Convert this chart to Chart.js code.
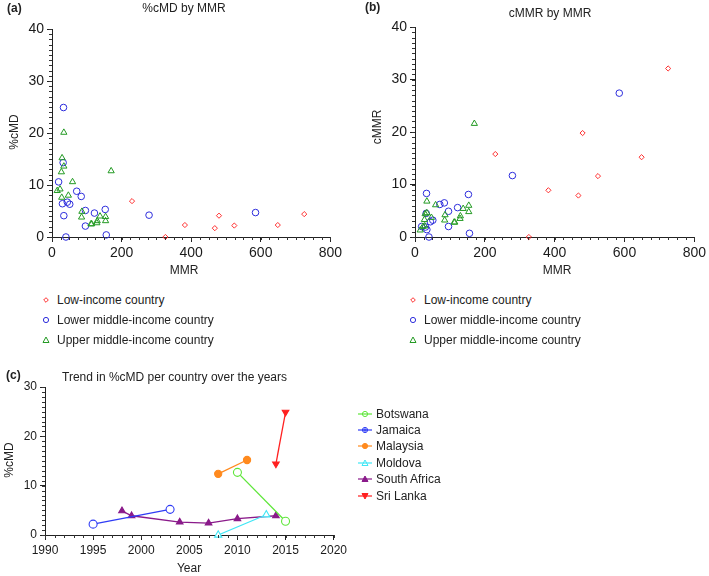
<!DOCTYPE html>
<html lang="en">
<head>
<meta charset="UTF-8">
<title>%cMD and cMMR by MMR</title>
<script src="https://cdn.jsdelivr.net/npm/chart.js@4.4.0/dist/chart.umd.min.js"></script>
<style>
    body { margin: 0; background: #fff; font-family: "Liberation Sans", Arial, sans-serif; color: #222; }
    .page { position: relative; width: 709px; height: 576px; overflow: hidden; }
    canvas { position: absolute; }
    .txt { position: absolute; font-size: 12px; white-space: nowrap; line-height: 14px; }
    .tag { font-weight: bold; }
    .ctr { transform: translateX(-50%); }
    .rot { transform: translate(-50%, -50%) rotate(-90deg); }
    .leg { position: absolute; font-size: 12px; line-height: 14px; white-space: nowrap; display: flex; align-items: center; }
    .leg svg { margin-right: 4px; }
</style>
</head>
<body>
<div class="page">
    <canvas id="chartA" width="345" height="265" style="left:0;top:0"></canvas>
    <canvas id="chartB" width="349" height="265" style="left:360px;top:0"></canvas>
    <canvas id="chartC" width="350" height="190" style="left:0;top:375px"></canvas>

    <!-- panel text -->
    <div class="txt tag" style="left:7px;top:1px">(a)</div>
    <div class="txt ctr" style="left:184px;top:1px">%cMD by MMR</div>
    <div class="txt rot" style="left:14px;top:132px">%cMD</div>
    <div class="txt ctr" style="left:184px;top:263px">MMR</div>

    <div class="txt tag" style="left:365px;top:0px">(b)</div>
    <div class="txt ctr" style="left:550px;top:6px">cMMR by MMR</div>
    <div class="txt rot" style="left:377px;top:127px">cMMR</div>
    <div class="txt ctr" style="left:557px;top:263px">MMR</div>

    <div class="txt tag" style="left:6px;top:368px">(c)</div>
    <div class="txt" style="left:62px;top:370px">Trend in %cMD per country over the years</div>
    <div class="txt rot" style="left:9px;top:460px">%cMD</div>
    <div class="txt ctr" style="left:189px;top:561px">Year</div>

    <div id="legA"></div>
    <div id="legB"></div>
    <div id="legC"></div>
</div>

<script>
    // ---- data, panels (a) and (b) ----
    const lowMMR = [230, 326, 382, 468, 480, 524, 649, 725];
    const lowPctCMD = [6.9, 0, 2.3, 1.7, 4.1, 2.2, 2.3, 4.4];
    const lowCMMR = [15.8, 0, 8.9, 7.9, 19.8, 11.6, 15.2, 32.1];

    const lowerMidMMR = [33, 19, 32, 71, 84, 30, 44, 51, 34, 40, 96, 96, 122, 153, 156, 279, 585];
    const lowerMidPctCMD = [24.9, 10.6, 14.3, 8.8, 7.8, 6.4, 6.7, 6.3, 4.1, 0, 5.1, 2.1, 4.6, 5.3, 0.4, 4.2, 4.7];
    const lowerMidCMMR = [8.3, 2.0, 4.5, 6.2, 6.5, 1.9, 2.9, 3.2, 1.4, 0, 4.9, 2.0, 5.6, 8.1, 0.7, 11.7, 27.4];

    const upperMidMMR = [34, 29, 34, 27, 15, 23, 28, 47, 59, 170, 86, 85, 112, 114, 129, 130, 138, 154, 154];
    const upperMidPctCMD = [20.1, 15.2, 13.6, 12.5, 8.9, 9.2, 7.6, 8.0, 10.6, 12.7, 4.9, 3.8, 2.5, 2.5, 2.7, 3.1, 4.0, 3.9, 3.1];
    const upperMidCMMR = [6.8, 4.4, 4.6, 3.3, 1.3, 2.0, 2.1, 3.7, 6.1, 21.6, 4.2, 3.2, 2.8, 2.8, 3.5, 4.0, 5.4, 6.0, 4.8];

    const incomeGroups = ['Low-income country', 'Lower middle-income country', 'Upper middle-income country'];

    // ---- data, panel (c) ----
    const countries = ['Botswana', 'Jamaica', 'Malaysia', 'Moldova', 'South Africa', 'Sri Lanka'];
    const botswanaYears = [2010, 2015];
    const botswanaPct = [12.7, 2.8];
    const jamaicaYears = [1995, 2003];
    const jamaicaPct = [2.2, 5.2];
    const malaysiaYears = [2008, 2011];
    const malaysiaPct = [12.4, 15.2];
    const moldovaYears = [2008, 2013];
    const moldovaPct = [0, 4.1];
    const southAfricaYears = [1998, 1999, 2004, 2007, 2010, 2014];
    const southAfricaPct = [4.9, 3.9, 2.6, 2.4, 3.3, 3.9];
    const sriLankaYears = [2014, 2015];
    const sriLankaPct = [14.4, 24.9];

    const FONT = 'Liberation Sans, Arial, sans-serif';
    const RED = '#ff3030', BLUE = '#2d2ddc', GREEN = '#239a23';

    const pts = (xs, ys) => xs.map((x, i) => ({ x: x, y: ys[i] }));

    // short minor ticks outside the axes
    const minorTicks = {
        id: 'minorTicks',
        afterDraw(chart, args, opts) {
            const ctx = chart.ctx;
            ctx.save();
            ctx.strokeStyle = '#333';
            ctx.lineWidth = 1;
            for (const [id, step] of Object.entries(opts.steps || {})) {
                const s = chart.scales[id];
                for (let v = s.min; v <= s.max + 1e-9; v += step) {
                    const p = Math.round(s.getPixelForValue(v)) + 0.5;
                    ctx.beginPath();
                    if (s.isHorizontal()) {
                        const y0 = Math.round(chart.chartArea.bottom);
                        ctx.moveTo(p, y0); ctx.lineTo(p, y0 + 3);
                    } else {
                        const x0 = Math.round(chart.chartArea.left);
                        ctx.moveTo(x0 - 3, p); ctx.lineTo(x0, p);
                    }
                    ctx.stroke();
                }
            }
            ctx.restore();
        }
    };

    function axis(min, max, step, fontSize, fitSize, horizontal) {
        return {
            type: 'linear',
            min: min,
            max: max,
            border: { display: true, color: '#222', width: 1 },
            grid: { drawOnChartArea: false, drawTicks: true, tickLength: 5, color: '#222' },
            ticks: { stepSize: step, color: '#1a1a1a', padding: 3, maxRotation: 0,
                     callback: v => String(v),
                     font: { family: FONT, size: fontSize } },
            afterFit: s => { if (horizontal) s.height = fitSize; else s.width = fitSize; }
        };
    }

    function scatterSet(label, xs, ys, color, style, r) {
        return {
            label: label,
            data: pts(xs, ys),
            pointStyle: style,
            pointRadius: r,
            pointBorderWidth: 1,
            borderColor: color,
            backgroundColor: 'rgba(0,0,0,0)',
            clip: false
        };
    }

    function scatterChart(id, pad, yWidth, lowY, lowerY, upperY) {
        return new Chart(document.getElementById(id), {
            type: 'scatter',
            data: {
                datasets: [
                    scatterSet(incomeGroups[2], upperMidMMR, upperY, GREEN, 'triangle', 3.6),
                    scatterSet(incomeGroups[1], lowerMidMMR, lowerY, BLUE, 'circle', 3.3),
                    scatterSet(incomeGroups[0], lowMMR, lowY, RED, 'rectRot', 2.6)
                ]
            },
            options: {
                responsive: false,
                animation: false,
                devicePixelRatio: 1,
                layout: { padding: pad },
                plugins: { legend: { display: false }, tooltip: { enabled: false },
                           minorTicks: { steps: { x: 25, y: 1 } } },
                scales: {
                    x: axis(0, 800, 200, 14, 28, true),
                    y: axis(0, 40, 10, 14, yWidth, false)
                }
            },
            plugins: [minorTicks]
        });
    }

    scatterChart('chartA', { left: 0, right: 13, top: 29, bottom: 0 }, 52, lowPctCMD, lowerMidPctCMD, upperMidPctCMD);
    scatterChart('chartB', { left: 0, right: 10, top: 27, bottom: 0 }, 55, lowCMMR, lowerMidCMMR, upperMidCMMR);

    // ---- panel (c) ----
    const trendStyles = [
        { color: '#5ee63a', style: 'circle', r: 4, fill: false },
        { color: '#2f3cf5', style: 'circle', r: 4, fill: false },
        { color: '#ff8a1e', style: 'circle', r: 3.6, fill: true },
        { color: '#3fe6f5', style: 'triangle', r: 4.2, fill: false },
        { color: '#8a1a8a', style: 'triangle', r: 3.8, fill: true },
        { color: '#ff2020', style: 'triangle', r: 3.8, fill: true, rot: 180 }
    ];
    const trendData = [
        [botswanaYears, botswanaPct], [jamaicaYears, jamaicaPct], [malaysiaYears, malaysiaPct],
        [moldovaYears, moldovaPct], [southAfricaYears, southAfricaPct], [sriLankaYears, sriLankaPct]
    ];
    const trendSets = countries.map((c, i) => {
        const st = trendStyles[i];
        return {
            label: c,
            data: pts(trendData[i][0], trendData[i][1]),
            showLine: true,
            borderColor: st.color,
            borderWidth: 1.3,
            pointStyle: st.style,
            pointRadius: st.r,
            pointRotation: st.rot || 0,
            pointBorderWidth: 1.1,
            pointBorderColor: st.color,
            pointBackgroundColor: st.fill ? st.color : '#fff',
            backgroundColor: st.fill ? st.color : '#fff',
            clip: false
        };
    });
    // cross inside the Jamaica circles
    trendSets.push({
        label: 'Jamaica cross',
        data: pts(jamaicaYears, jamaicaPct),
        showLine: false,
        pointStyle: 'cross',
        pointRadius: 3.5,
        pointBorderWidth: 1,
        pointBorderColor: '#2f3cf5',
        clip: false
    });

    new Chart(document.getElementById('chartC'), {
        type: 'scatter',
        data: { datasets: trendSets },
        options: {
            responsive: false,
            animation: false,
            devicePixelRatio: 1,
            layout: { padding: { left: 0, right: 11, top: 12, bottom: 0 } },
            plugins: { legend: { display: false }, tooltip: { enabled: false },
                       minorTicks: { steps: { x: 1, y: 1 } } },
            scales: {
                x: axis(1990, 2020, 5, 12, 30, true),
                y: axis(0, 30, 10, 12, 45, false)
            }
        },
        plugins: [minorTicks]
    });

    // ---- html legends ----
    function marker(style, color, fill, withLine, cross) {
        let m = '';
        const f = fill ? color : 'none';
        if (style === 'circle') m = `<circle cx="7" cy="5" r="2.6" fill="${f}" stroke="${color}"/>`;
        if (style === 'triangle') m = `<polygon points="7,2 10,7.5 4,7.5" fill="${f}" stroke="${color}"/>`;
        if (style === 'down') m = `<polygon points="7,8 10,2.5 4,2.5" fill="${f}" stroke="${color}"/>`;
        if (style === 'rectRot') m = `<polygon points="7,2.7 9.3,5 7,7.3 4.7,5" fill="${f}" stroke="${color}"/>`;
        if (cross) m += `<path d="M4.5 5H9.5M7 2.5V7.5" stroke="${color}"/>`;
        const l = withLine ? `<line x1="0" y1="5" x2="14" y2="5" stroke="${color}" stroke-width="1.2"/>` : '';
        return `<svg width="14" height="10">${l}${m}</svg>`;
    }

    function legendRows(el, left, tops, items) {
        el.innerHTML = items.map((it, i) =>
            `<div class="leg" style="left:${left}px;top:${tops[i]}px">${it.svg}<span>${it.label}</span></div>`
        ).join('');
    }

    const scatterLegend = [
        { label: incomeGroups[0], svg: marker('rectRot', RED, false) },
        { label: incomeGroups[1], svg: marker('circle', BLUE, false) },
        { label: incomeGroups[2], svg: marker('triangle', GREEN, false) }
    ];
    legendRows(document.getElementById('legA'), 39, [293, 313, 333], scatterLegend);
    legendRows(document.getElementById('legB'), 406, [293, 313, 333], scatterLegend);

    legendRows(document.getElementById('legC'), 358, [407, 423, 439, 456, 472, 489], countries.map((c, i) => {
        const st = trendStyles[i];
        const style = st.rot ? 'down' : st.style;
        return { label: c, svg: marker(style, st.color, st.fill, true, c === 'Jamaica') };
    }));
</script>
</body>
</html>
